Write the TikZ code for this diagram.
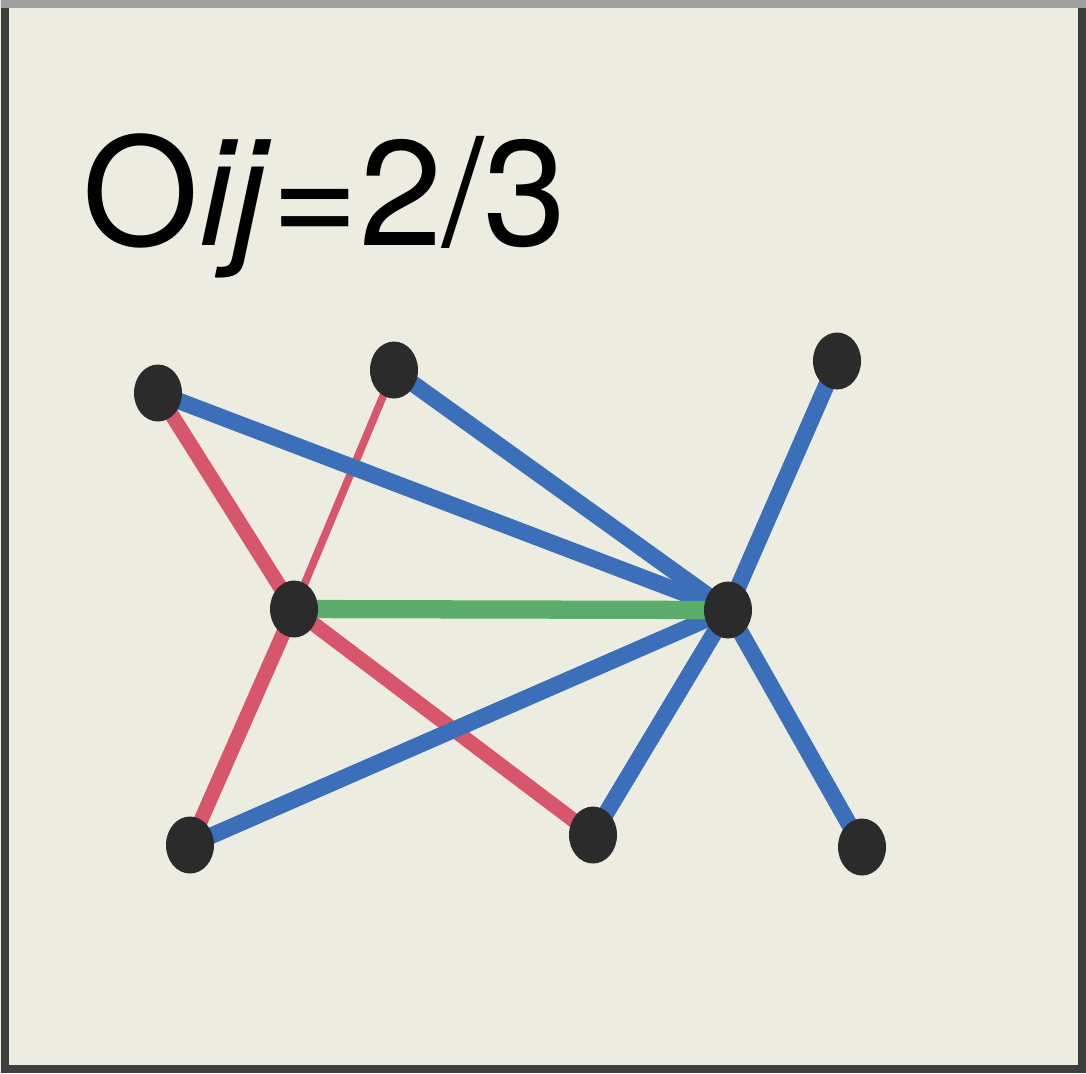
\documentclass[tikz,border=0pt]{standalone}
\usepackage{fontspec}
\usepackage{tikz}
\usetikzlibrary{shapes.geometric}
\newfontfamily\heros{TeX Gyre Heros}
\definecolor{panelbg}{HTML}{ECECE0}
\definecolor{frameline}{HTML}{3E3E3E}
\definecolor{vertexfill}{HTML}{2B2B2B}
\definecolor{linkblue}{HTML}{3B6FBA}
\definecolor{linkred}{HTML}{D8566B}
\definecolor{linkgreen}{HTML}{5CAD6B}
\pgfdeclarelayer{back}
\pgfdeclarelayer{mid}
\pgfsetlayers{back,mid,main}

\begin{document}
\begin{tikzpicture}[
    vertex/.style={ellipse, fill=vertexfill, inner sep=0pt, minimum width=0.48cm, minimum height=0.57cm},
    bluelink/.style={linkblue, line width=4.7pt},
    redlink/.style={linkred, line width=4.2pt},
    thinred/.style={linkred, line width=2.2pt},
    greenlink/.style={linkgreen, line width=5.2pt}]
\useasboundingbox (0,0) rectangle (10.86,-10.73);
\begin{pgfonlayer}{back}
    % Panel and frame.
    \fill[panelbg] (0,0) rectangle (10.86,-10.73);
    \draw[frameline, line width=0.08cm] (0.05,-0.04) -- (0.05,-10.69) -- (10.82,-10.69) -- (10.82,-0.04);
    \draw[gray!75, line width=0.08cm] (0.01,-0.04) -- (10.86,-0.04);
\end{pgfonlayer}
% Overlap label.
\node[anchor=base west, inner sep=0pt] (lbl) at (0.82,-2.45)
    {\heros\fontsize{42.6}{50}\selectfont O\textit{ij}=2/3};
% Vertices: i is left hub, j is right hub.
\foreach \name/\x/\y in {a/1.58/-3.93, b/3.94/-3.70, c/8.37/-3.61, i/2.94/-6.09,
                         j/7.28/-6.10, f/1.90/-8.45, g/5.93/-8.35, h/8.62/-8.47}{
    \node[vertex] (\name) at (\x,\y) {};
}
\begin{pgfonlayer}{mid}
    % Links of i only.
    \foreach \u in {a,f,g}{
        \draw[redlink] (i.center) -- (\u.center);
    }
    \draw[thinred] (i.center) -- (b.center);
    % Links of j.
    \foreach \u in {a,b,c,f,g,h}{
        \draw[bluelink] (j.center) -- (\u.center);
    }
    % Link i--j.
    \draw[greenlink] (i.center) -- (j.center);
\end{pgfonlayer}
\end{tikzpicture}
\end{document}
